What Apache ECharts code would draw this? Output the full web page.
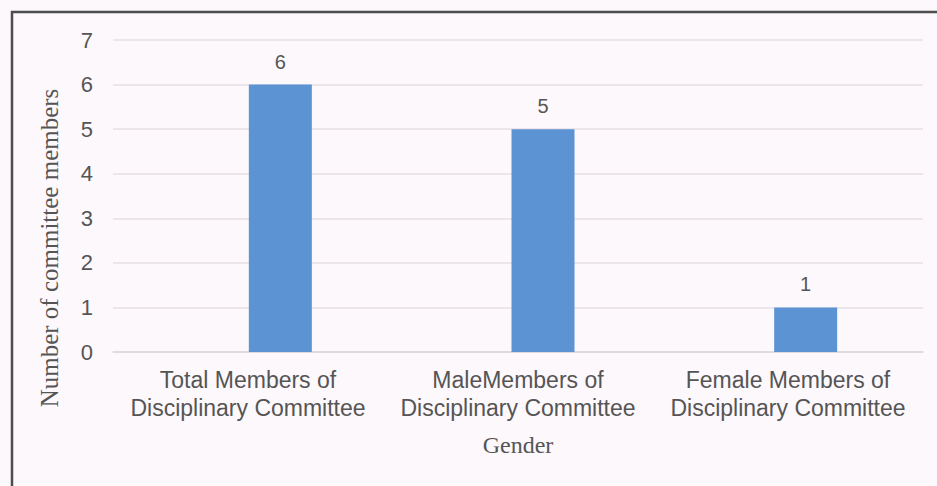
<!DOCTYPE html>
<html>
<head>
<meta charset="utf-8">
<script src="https://cdn.jsdelivr.net/npm/echarts@6/dist/echarts.min.js"></script>
<style>
html,body{margin:0;padding:0;background:#fdf8fc;}
#chart{width:937px;height:486px;}
</style>
</head>
<body>
<div id="chart"></div>
<script>
const categories = [
  'Total Members of\nDisciplinary Committee',
  'MaleMembers of\nDisciplinary Committee',
  'Female Members of\nDisciplinary Committee'
];
const memberCounts = [6, 5, 1];
const yMin = 0, yMax = 7, yStep = 1;
const xTitle = 'Gender';
const yTitle = 'Number of committee members';

const chart = echarts.init(document.getElementById('chart'), null, {renderer: 'svg'});
const textColor = '#555555';
const option = {
  backgroundColor: '#fdf8fc',
  animation: false,
  grid: [
    {left: 113, top: 40, width: 810, height: 312},
    {left: 149, top: 40, width: 810, height: 312}
  ],
  xAxis: [
    {
      gridIndex: 0, type: 'category', data: categories,
      axisLine: {lineStyle: {color: '#ddd6dd', width: 1.5}},
      axisTick: {show: false},
      axisLabel: {fontFamily: 'Liberation Sans', fontSize: 23, color: textColor, lineHeight: 28, margin: 14, interval: 0},
      name: xTitle, nameLocation: 'middle', nameGap: 81,
      nameTextStyle: {fontFamily: 'Liberation Serif', fontSize: 24, color: textColor}
    },
    {gridIndex: 1, type: 'category', data: categories, show: false}
  ],
  yAxis: [
    {
      gridIndex: 0, type: 'value', min: yMin, max: yMax, interval: yStep,
      axisLine: {show: false}, axisTick: {show: false},
      axisLabel: {fontFamily: 'Liberation Sans', fontSize: 22, color: textColor, margin: 20},
      splitLine: {lineStyle: {color: '#e6dfe6', width: 1.5}}
    },
    {gridIndex: 1, type: 'value', min: yMin, max: yMax, interval: yStep, show: false}
  ],
  graphic: [
    {
      type: 'rect', silent: true,
      shape: {x: 12, y: 12, width: 1000, height: 1000},
      style: {fill: 'none', stroke: '#4d4d4d', lineWidth: 2.5}
    },
    {
      type: 'text', x: 49, y: 248, rotation: Math.PI / 2,
      style: {
        text: yTitle, fontFamily: 'Liberation Serif', fontSize: 25, fill: textColor,
        textAlign: 'center', textVerticalAlign: 'middle'
      }
    }
  ],
  series: [
    {
      type: 'bar', xAxisIndex: 1, yAxisIndex: 1, data: memberCounts,
      barWidth: 63,
      itemStyle: {color: '#5b93d3'},
      label: {show: true, position: 'top', distance: 13, fontFamily: 'Liberation Sans', fontSize: 20, color: textColor}
    }
  ]
};
chart.setOption(option);
</script>
</body>
</html>
